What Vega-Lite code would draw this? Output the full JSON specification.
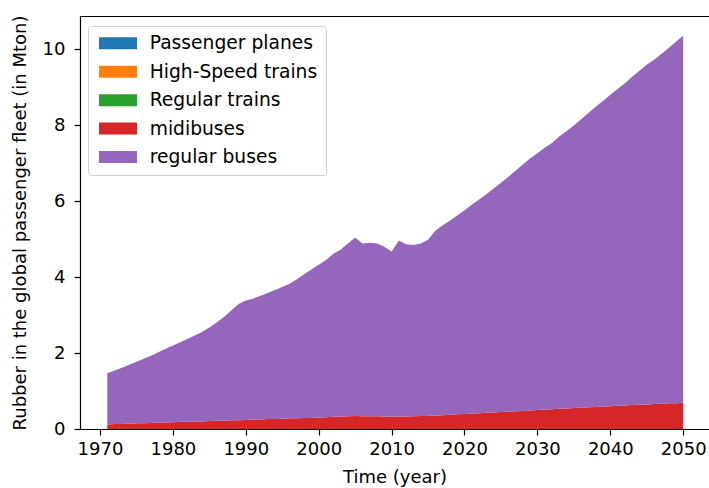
{
  "$schema": "https://vega.github.io/schema/vega-lite/v6.json",
  "width": 629,
  "height": 413,
  "autosize": {"type": "none"},
  "padding": {"left": 80, "top": 16, "right": 0, "bottom": 59},
  "config": {
    "font": "DejaVu Sans",
    "view": {"stroke": null},
    "axis": {
      "labelFont": "DejaVu Sans",
      "titleFont": "DejaVu Sans",
      "labelFontSize": 18,
      "titleFontSize": 18,
      "labelColor": "#000000",
      "titleColor": "#000000",
      "titleFontWeight": "normal",
      "domainColor": "#000000",
      "tickColor": "#000000",
      "domainWidth": 1.2,
      "tickWidth": 1.2,
      "tickSize": 6,
      "grid": false
    },
    "legend": {
      "labelFont": "DejaVu Sans",
      "labelFontSize": 18.7,
      "labelColor": "#000000",
      "labelLimit": 400
    }
  },
  "data": {
    "values": [
      {"year": 1971, "midibuses": 0.12, "regular buses": 1.35},
      {"year": 1972, "midibuses": 0.13, "regular buses": 1.41},
      {"year": 1973, "midibuses": 0.13, "regular buses": 1.48},
      {"year": 1974, "midibuses": 0.14, "regular buses": 1.55},
      {"year": 1975, "midibuses": 0.15, "regular buses": 1.62},
      {"year": 1976, "midibuses": 0.15, "regular buses": 1.70},
      {"year": 1977, "midibuses": 0.16, "regular buses": 1.77},
      {"year": 1978, "midibuses": 0.17, "regular buses": 1.85},
      {"year": 1979, "midibuses": 0.17, "regular buses": 1.94},
      {"year": 1980, "midibuses": 0.18, "regular buses": 2.02},
      {"year": 1981, "midibuses": 0.19, "regular buses": 2.09},
      {"year": 1982, "midibuses": 0.19, "regular buses": 2.18},
      {"year": 1983, "midibuses": 0.20, "regular buses": 2.26},
      {"year": 1984, "midibuses": 0.20, "regular buses": 2.35},
      {"year": 1985, "midibuses": 0.21, "regular buses": 2.46},
      {"year": 1986, "midibuses": 0.22, "regular buses": 2.58},
      {"year": 1987, "midibuses": 0.22, "regular buses": 2.73},
      {"year": 1988, "midibuses": 0.23, "regular buses": 2.89},
      {"year": 1989, "midibuses": 0.23, "regular buses": 3.06},
      {"year": 1990, "midibuses": 0.24, "regular buses": 3.14},
      {"year": 1991, "midibuses": 0.25, "regular buses": 3.18},
      {"year": 1992, "midibuses": 0.25, "regular buses": 3.26},
      {"year": 1993, "midibuses": 0.26, "regular buses": 3.32},
      {"year": 1994, "midibuses": 0.26, "regular buses": 3.40},
      {"year": 1995, "midibuses": 0.27, "regular buses": 3.47},
      {"year": 1996, "midibuses": 0.28, "regular buses": 3.54},
      {"year": 1997, "midibuses": 0.28, "regular buses": 3.66},
      {"year": 1998, "midibuses": 0.29, "regular buses": 3.78},
      {"year": 1999, "midibuses": 0.29, "regular buses": 3.91},
      {"year": 2000, "midibuses": 0.30, "regular buses": 4.02},
      {"year": 2001, "midibuses": 0.31, "regular buses": 4.14},
      {"year": 2002, "midibuses": 0.32, "regular buses": 4.29},
      {"year": 2003, "midibuses": 0.33, "regular buses": 4.39},
      {"year": 2004, "midibuses": 0.335, "regular buses": 4.545},
      {"year": 2005, "midibuses": 0.34, "regular buses": 4.70},
      {"year": 2006, "midibuses": 0.335, "regular buses": 4.545},
      {"year": 2007, "midibuses": 0.335, "regular buses": 4.565},
      {"year": 2008, "midibuses": 0.335, "regular buses": 4.545},
      {"year": 2009, "midibuses": 0.33, "regular buses": 4.47},
      {"year": 2010, "midibuses": 0.325, "regular buses": 4.345},
      {"year": 2011, "midibuses": 0.33, "regular buses": 4.63},
      {"year": 2012, "midibuses": 0.33, "regular buses": 4.53},
      {"year": 2013, "midibuses": 0.335, "regular buses": 4.505},
      {"year": 2014, "midibuses": 0.34, "regular buses": 4.54},
      {"year": 2015, "midibuses": 0.345, "regular buses": 4.635},
      {"year": 2016, "midibuses": 0.355, "regular buses": 4.865},
      {"year": 2017, "midibuses": 0.365, "regular buses": 4.995},
      {"year": 2018, "midibuses": 0.375, "regular buses": 5.105},
      {"year": 2019, "midibuses": 0.385, "regular buses": 5.235},
      {"year": 2020, "midibuses": 0.395, "regular buses": 5.365},
      {"year": 2021, "midibuses": 0.405, "regular buses": 5.495},
      {"year": 2022, "midibuses": 0.415, "regular buses": 5.625},
      {"year": 2023, "midibuses": 0.425, "regular buses": 5.755},
      {"year": 2024, "midibuses": 0.435, "regular buses": 5.895},
      {"year": 2025, "midibuses": 0.445, "regular buses": 6.035},
      {"year": 2026, "midibuses": 0.455, "regular buses": 6.175},
      {"year": 2027, "midibuses": 0.465, "regular buses": 6.335},
      {"year": 2028, "midibuses": 0.475, "regular buses": 6.485},
      {"year": 2029, "midibuses": 0.49, "regular buses": 6.63},
      {"year": 2030, "midibuses": 0.50, "regular buses": 6.76},
      {"year": 2031, "midibuses": 0.51, "regular buses": 6.89},
      {"year": 2032, "midibuses": 0.52, "regular buses": 7.01},
      {"year": 2033, "midibuses": 0.53, "regular buses": 7.17},
      {"year": 2034, "midibuses": 0.54, "regular buses": 7.30},
      {"year": 2035, "midibuses": 0.55, "regular buses": 7.44},
      {"year": 2036, "midibuses": 0.56, "regular buses": 7.59},
      {"year": 2037, "midibuses": 0.57, "regular buses": 7.75},
      {"year": 2038, "midibuses": 0.58, "regular buses": 7.90},
      {"year": 2039, "midibuses": 0.59, "regular buses": 8.04},
      {"year": 2040, "midibuses": 0.60, "regular buses": 8.20},
      {"year": 2041, "midibuses": 0.61, "regular buses": 8.34},
      {"year": 2042, "midibuses": 0.62, "regular buses": 8.48},
      {"year": 2043, "midibuses": 0.63, "regular buses": 8.64},
      {"year": 2044, "midibuses": 0.64, "regular buses": 8.79},
      {"year": 2045, "midibuses": 0.645, "regular buses": 8.945},
      {"year": 2046, "midibuses": 0.655, "regular buses": 9.065},
      {"year": 2047, "midibuses": 0.665, "regular buses": 9.205},
      {"year": 2048, "midibuses": 0.675, "regular buses": 9.355},
      {"year": 2049, "midibuses": 0.68, "regular buses": 9.51},
      {"year": 2050, "midibuses": 0.69, "regular buses": 9.66}
    ]
  },
  "transform": [
    {"fold": ["midibuses", "regular buses"], "as": ["type", "value"]}
  ],
  "layer": [
    {
      "mark": {"type": "area", "interpolate": "linear"},
      "encoding": {
        "x": {
          "field": "year",
          "type": "quantitative",
          "scale": {"domain": [1967.257, 2053.54], "nice": false, "zero": false},
          "axis": {
            "values": [1970, 1980, 1990, 2000, 2010, 2020, 2030, 2040, 2050],
            "format": "d",
            "labelPadding": 5,
            "titlePadding": 10,
            "title": "Time (year)"
          }
        },
        "y": {
          "field": "value",
          "type": "quantitative",
          "stack": "zero",
          "scale": {"domain": [0, 10.87], "nice": false},
          "axis": {
            "values": [0, 2, 4, 6, 8, 10],
            "labelPadding": 9,
            "titlePadding": 13,
            "title": "Rubber in the global passenger fleet (in Mton)"
          }
        },
        "color": {
          "field": "type",
          "type": "nominal",
          "scale": {
            "domain": ["Passenger planes", "High-Speed trains", "Regular trains", "midibuses", "regular buses"],
            "range": ["#1f77b4", "#ff7f0e", "#2ca02c", "#d62728", "#9467bd"]
          },
          "legend": {
            "title": null,
            "orient": "none",
            "legendX": 8,
            "legendY": 10,
            "symbolType": "M-1,-0.95H5V0.95H-1Z",
            "symbolSize": 160.4,
            "symbolStrokeWidth": 0,
            "symbolOpacity": 1,
            "labelOffset": 35,
            "rowPadding": 8.4,
            "padding": 8,
            "strokeColor": "#d0d0d0",
            "fillColor": "rgba(255,255,255,0.8)",
            "cornerRadius": 3
          }
        },
        "order": {"field": "type", "sort": "ascending"}
      }
    },
    {
      "mark": {"type": "point", "opacity": 0},
      "encoding": {
        "x": {
          "field": "year",
          "type": "quantitative",
          "axis": {"orient": "top", "labels": false, "ticks": false, "title": null, "domain": true}
        },
        "y": {"field": "value", "type": "quantitative"}
      }
    }
  ],
  "resolve": {"axis": {"x": "independent"}}
}
